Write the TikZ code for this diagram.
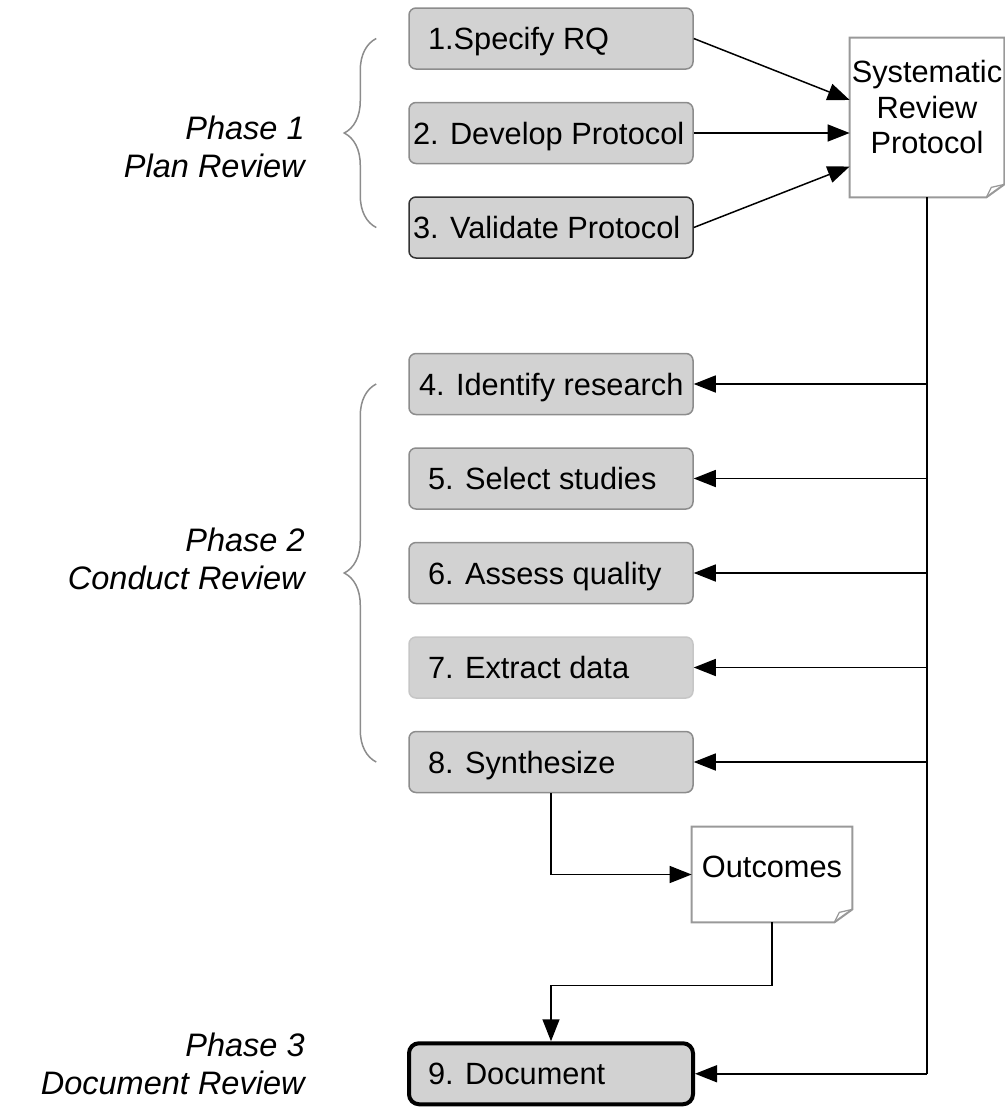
\documentclass[tikz,border=0pt]{standalone}
\usepackage{fontspec}
\setmainfont{Liberation Sans}
\usetikzlibrary{positioning, arrows.meta, decorations.pathreplacing}

\begin{document}
\begin{tikzpicture}[
        textwd/.store in=\textwd, textwd=4.92cm,
        stage/.style={rectangle, rounded corners=0.14cm, draw=gray!90, line width=0.03cm, fill=gray!35,
          minimum width=5.68cm, minimum height=1.22cm, inner xsep=0.38cm, textwd=4.92cm,
          text height=0.44cm, text depth=0cm, font=\fontsize{17.5}{21}\selectfont,
          execute at begin node={\hbox to \textwd\bgroup}, execute at end node={\hss\egroup}},
        widestage/.style={inner xsep=0.08cm, textwd=5.52cm},
        docfile/.style={minimum width=3.08cm, minimum height=3.18cm, inner sep=0},
        doctext/.style={align=center, inner sep=0, font=\fontsize{17.5}{20}\selectfont},
        docline/.style={draw=gray!80, line width=0.04cm},
        phase/.style={align=right, inner sep=0, anchor=north east,
          font=\fontsize{18.5}{21.6}\selectfont\itshape},
        brace/.style={draw=gray!90, line width=0.03cm, decorate, decoration={brace, amplitude=0.64cm}},
        flow/.style={line width=0.03cm, -{Triangle[length=0.44cm, width=0.34cm]}},
        node distance=0.64cm
      ]
      \useasboundingbox (0,0) rectangle (20.1,-22.24);
      % steps
      \node[stage] (s1) at (11.02,-0.77) {1.Specify RQ};
      \node[stage, widestage] (s2) [below=of s1] {2. Develop Protocol};
      \node[stage, widestage, draw=gray!40!black] (s3) [below=of s2] {3. Validate Protocol};
      \node[stage, inner xsep=0.2cm, textwd=5.28cm] (s4) [below=1.88cm of s3] {4. Identify research};
      \node[stage] (s5) [below=of s4] {5. Select studies};
      \node[stage] (s6) [below=of s5] {6. Assess quality};
      \node[stage, draw=gray!45] (s7) [below=of s6] {7. Extract data};
      \node[stage] (s8) [below=of s7] {8. Synthesize};
      \node[stage, draw=black, line width=0.08cm, rounded corners=0.2cm] (s9) [below=4.96cm of s8] {9. Document};
      % documents
      \node[docfile, label={[doctext, yshift=0.21cm]center:Systematic\\Review\\Protocol}] (srp) at (18.54,-2.35) {};
      \node[docfile, minimum width=3.2cm, minimum height=1.9cm,
        label={[doctext, yshift=0.16cm]center:Outcomes}] (out) at (15.44,-17.49) {};
      \foreach \d in {srp,out} {
        \draw[docline] (\d.north west) -- (\d.north east) -- ([yshift=0.26cm]\d.south east)
          -- ([xshift=-0.36cm]\d.south east) -- (\d.south west) -- cycle;
        \draw[docline, line width=0.025cm] ([yshift=0.26cm]\d.south east) -- ([xshift=-0.26cm, yshift=0.2cm]\d.south east)
          -- ([xshift=-0.36cm]\d.south east);
      }
      % phases
      \node[phase] (p1) at (6.1,-2.32) {Phase 1\\Plan Review};
      \node[phase] (p2) at (6.1,-10.56) {Phase 2\\Conduct Review};
      \node[phase] (p3) at (6.1,-20.66) {Phase 3\\Document Review};
      \draw[brace] ([xshift=-0.64cm]s3.west) -- ([xshift=-0.64cm]s1.west);
      \draw[brace] ([xshift=-0.64cm]s8.west) -- ([xshift=-0.64cm]s4.west);
      % flows
      \draw[flow] (s1.east) -- ([yshift=0.35cm]srp.west);
      \draw[flow] (s2.east) -- (s2.east -| srp.west);
      \draw[flow] (s3.east) -- ([yshift=-0.98cm]srp.west);
      \draw[line width=0.03cm] (srp.south) -- (srp.south |- s9.east);
      \foreach \n in {4,...,9}
        \draw[flow] (srp.south |- s\n.east) -- (s\n.east);
      \draw[flow] (s8.south) |- (out.west);
      \draw[flow] (out.south) -- ++(0,-1.26) -| (s9.north);
    \end{tikzpicture}
\end{document}
